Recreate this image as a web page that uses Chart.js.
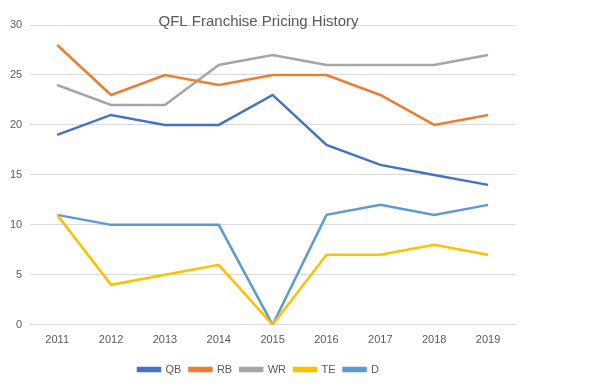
<!DOCTYPE html>
<html>
<head>
<meta charset="utf-8">
<script src="https://cdn.jsdelivr.net/npm/chart.js@4.4.0/dist/chart.umd.min.js"></script>
<style>
  html, body { margin: 0; padding: 0; background: #fff; }
  #wrap { width: 589px; height: 389px; }
</style>
</head>
<body>
<div id="wrap"><canvas id="chart"></canvas></div>
<script>
const years = ['2011', '2012', '2013', '2014', '2015', '2016', '2017', '2018', '2019'];
const qb = [19, 21, 20, 20, 23, 18, 16, 15, 14];
const rb = [28, 23, 25, 24, 25, 25, 23, 20, 21];
const wr = [24, 22, 22, 26, 27, 26, 26, 26, 27];
const te = [11, 4, 5, 6, 0, 7, 7, 8, 7];
const d = [11, 10, 10, 10, 0, 11, 12, 11, 12];

function line_set(label, data, color) {
    return {
        label: label,
        data: data,
        borderColor: color,
        backgroundColor: color,
        borderWidth: 2.5,
        pointRadius: 0,
        tension: 0,
        fill: false
    };
}

const font_family = "'Liberation Sans', 'DejaVu Sans', sans-serif";

new Chart(document.getElementById('chart').getContext('2d'), {
    type: 'line',
    data: {
        labels: years,
        datasets: [
            line_set('QB', qb, '#4472C4'),
            line_set('RB', rb, '#ED7D31'),
            line_set('WR', wr, '#A5A5A5'),
            line_set('TE', te, '#FFC000'),
            line_set('D', d, '#5B9BD5')
        ]
    },
    options: {
        responsive: true,
        maintainAspectRatio: false,
        animation: false,
        layout: {
            padding: { left: 2, right: 74, top: 0, bottom: 4 }
        },
        plugins: {
            title: {
                display: true,
                text: 'QFL Franchise Pricing History',
                color: '#595959',
                font: { family: font_family, size: 15, weight: 'normal' },
                padding: { top: 13, bottom: -6 }
            },
            legend: {
                position: 'bottom',
                labels: {
                    boxWidth: 22,
                    boxHeight: 3,
                    color: '#595959',
                    font: { family: font_family, size: 11 },
                    padding: 8
                }
            },
            tooltip: { enabled: false }
        },
        scales: {
            x: {
                offset: true,
                grid: { display: false, drawTicks: false },
                border: { color: '#D9D9D9' },
                ticks: {
                    color: '#595959',
                    font: { family: font_family, size: 11 },
                    padding: 9
                }
            },
            y: {
                min: 0,
                max: 30,
                grid: { color: '#D9D9D9', drawTicks: false },
                border: { display: false },
                ticks: {
                    stepSize: 5,
                    color: '#595959',
                    font: { family: font_family, size: 11 },
                    padding: 8
                }
            }
        }
    }
});
</script>
</body>
</html>
